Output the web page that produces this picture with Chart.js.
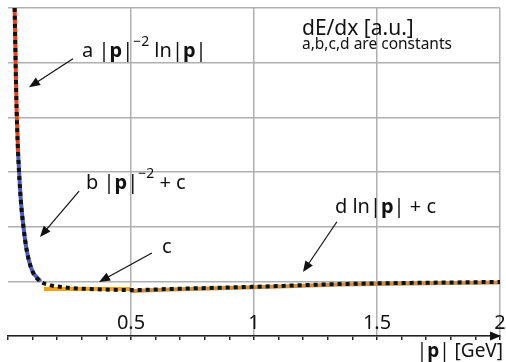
<!DOCTYPE html>
<html>
<head>
<meta charset="utf-8">
<script src="https://cdn.jsdelivr.net/npm/chart.js@4"></script>
<style>
    html, body { margin: 0; padding: 0; background: #fff; }
</style>
</head>
<body>
<canvas id="dedxChart" width="506" height="362"></canvas>
<script>
// full curve (black dotted)
var fullX = [0.027, 0.034, 0.041, 0.052, 0.063, 0.076, 0.097, 0.128, 0.171, 0.211, 0.252, 0.333, 0.496, 0.659, 0.996, 1.35, 2.0];
var fullY = [6.0, 4.32, 3.35, 2.49, 1.99, 1.57, 1.21, 1.01, 0.93, 0.90, 0.88, 0.86, 0.84, 0.86, 0.90, 0.95, 0.99];

// pieces of the approximation
var redX = [0.027, 0.034, 0.041];
var redY = [6.0, 4.32, 3.35];
var blueX = [0.041, 0.052, 0.063, 0.076, 0.097, 0.132];
var blueY = [3.35, 2.49, 1.99, 1.57, 1.21, 1.0];
var orangeX = [0.146, 0.496];
var orangeY = [0.86, 0.86];
var brownX = [0.496, 0.659, 0.996, 1.35, 2.0];
var brownY = [0.82, 0.85, 0.89, 0.94, 0.98];

var tickLabels = [0.5, 1, 1.5, 2];

function pts(xs, ys) {
    return xs.map(function(x, i) { return { x: x, y: ys[i] }; });
}

var FONT = '"Noto Sans", "Open Sans", sans-serif';

function runsWidth(ctx, runs, size) {
    var w = 0;
    runs.forEach(function(r) {
        var fs = r.sup ? size * 0.7 : size;
        ctx.font = (r.bold ? 'bold ' : '') + fs + 'px ' + FONT;
        w += ctx.measureText(r.t).width;
    });
    return w;
}

function drawRuns(ctx, x, y, runs, size) {
    ctx.textAlign = 'left';
    ctx.textBaseline = 'alphabetic';
    runs.forEach(function(r) {
        var fs = r.sup ? size * 0.7 : size;
        ctx.font = (r.bold ? 'bold ' : '') + fs + 'px ' + FONT;
        ctx.fillText(r.t, x, r.sup ? y - size * 0.55 : y);
        x += ctx.measureText(r.t).width;
    });
}

function arrow(ctx, x1, y1, x2, y2) {
    var a = Math.atan2(y2 - y1, x2 - x1);
    var len = 11, hw = 4.5;
    ctx.beginPath();
    ctx.moveTo(x1, y1);
    ctx.lineTo(x2 - Math.cos(a) * len * 0.8, y2 - Math.sin(a) * len * 0.8);
    ctx.lineWidth = 1.2;
    ctx.strokeStyle = '#111';
    ctx.stroke();
    ctx.beginPath();
    ctx.moveTo(x2, y2);
    ctx.lineTo(x2 - Math.cos(a) * len + Math.sin(a) * hw, y2 - Math.sin(a) * len - Math.cos(a) * hw);
    ctx.lineTo(x2 - Math.cos(a) * len - Math.sin(a) * hw, y2 - Math.sin(a) * len + Math.cos(a) * hw);
    ctx.closePath();
    ctx.fillStyle = '#111';
    ctx.fill();
}

var P = function(t) { return { t: t }; };
var B = function(t) { return { t: t, bold: true }; };
var S = function(t) { return { t: t, sup: true }; };

// annotations, in data coordinates
var notes = [
    { x: 0.301, y: 5.10, size: 20, runs: [P('a |'), B('p'), P('|'), S('\u22122'), P(' ln|'), B('p'), P('|')] },
    { x: 0.317, y: 2.69, size: 20, runs: [P('b |'), B('p'), P('|'), S('\u22122'), P(' + c')] },
    { x: 0.626, y: 1.52, size: 20, runs: [P('c')] },
    { x: 1.329, y: 2.25, size: 20, runs: [P('d ln|'), B('p'), P('| + c')] },
    { x: 1.195, y: 5.51, size: 21, runs: [P('dE/dx [a.u.]')] },
    { x: 1.195, y: 5.25, size: 15.5, runs: [P('a,b,c,d are constants')] }
];
var arrows = [
    [0.264, 5.07, 0.0854, 4.55],
    [0.289, 2.65, 0.130, 1.81],
    [0.585, 1.52, 0.370, 0.99],
    [1.337, 2.09, 1.199, 1.17]
];

var extras = {
    id: 'extras',
    afterDraw: function(chart) {
        var ctx = chart.ctx;
        var xs = chart.scales.x, ys = chart.scales.y;
        var area = chart.chartArea;
        ctx.save();
        ctx.fillStyle = '#111';
        notes.forEach(function(n) {
            drawRuns(ctx, xs.getPixelForValue(n.x), ys.getPixelForValue(n.y), n.runs, n.size);
        });
        arrows.forEach(function(a) {
            arrow(ctx, xs.getPixelForValue(a[0]), ys.getPixelForValue(a[1]),
                xs.getPixelForValue(a[2]), ys.getPixelForValue(a[3]));
        });
        // tick labels sit above the axis
        ctx.fillStyle = '#111';
        ctx.font = '20px ' + FONT;
        ctx.textAlign = 'center';
        ctx.textBaseline = 'alphabetic';
        tickLabels.forEach(function(v) {
            ctx.fillText(String(v), xs.getPixelForValue(v), area.bottom - 7);
        });
        // arrow head at the end of the x axis
        arrow(ctx, area.right - 8, area.bottom, area.right + 1, area.bottom);
        // axis title
        var title = [P('|'), B('p'), P('| [GeV]')];
        ctx.fillStyle = '#111';
        var w = runsWidth(ctx, title, 19);
        drawRuns(ctx, 503 - w, area.bottom + 21, title, 19);
        ctx.restore();
    }
};

var ctx = document.getElementById('dedxChart');
var chart = new Chart(ctx, {
    type: 'line',
    data: {
        datasets: [{
            data: pts(fullX, fullY),
            borderColor: '#111',
            borderWidth: 4,
            borderDash: [4, 4],
            cubicInterpolationMode: 'monotone',
            pointRadius: 0,
            order: 0
        }, {
            data: pts(redX, redY),
            borderColor: '#e8431f',
            borderWidth: 4,
            cubicInterpolationMode: 'monotone',
            pointRadius: 0,
            order: 1
        }, {
            data: pts(blueX, blueY),
            borderColor: '#4a5cbf',
            borderWidth: 4,
            cubicInterpolationMode: 'monotone',
            pointRadius: 0,
            order: 1
        }, {
            data: pts(orangeX, orangeY),
            borderColor: '#f5a20e',
            borderWidth: 4,
            pointRadius: 0,
            order: 1
        }, {
            data: pts(brownX, brownY),
            borderColor: '#c98f48',
            borderWidth: 4,
            cubicInterpolationMode: 'monotone',
            pointRadius: 0,
            order: 1
        }]
    },
    options: {
        responsive: false,
        animation: false,
        layout: { padding: { left: 8, right: 6, top: 8, bottom: 22 } },
        plugins: { legend: { display: false }, tooltip: { enabled: false } },
        scales: {
            x: {
                type: 'linear', min: 0, max: 2,
                ticks: { display: false, stepSize: 0.1 },
                grid: {
                    color: function(c) {
                        var v = c.tick ? c.tick.value : 0;
                        return (v > 0.01 && Math.abs(v * 2 - Math.round(v * 2)) < 1e-6) ? '#b0b0b0' : 'rgba(0,0,0,0)';
                    },
                    lineWidth: 1.5,
                    tickColor: '#222',
                    tickLength: 4
                },
                border: { display: true, color: '#222', width: 1.5 }
            },
            y: {
                min: 0, max: 6,
                ticks: { display: false, stepSize: 1 },
                grid: { color: '#b0b0b0', lineWidth: 1.5, drawTicks: false },
                border: { display: false }
            }
        }
    },
    plugins: [extras]
});
</script>
</body>
</html>
